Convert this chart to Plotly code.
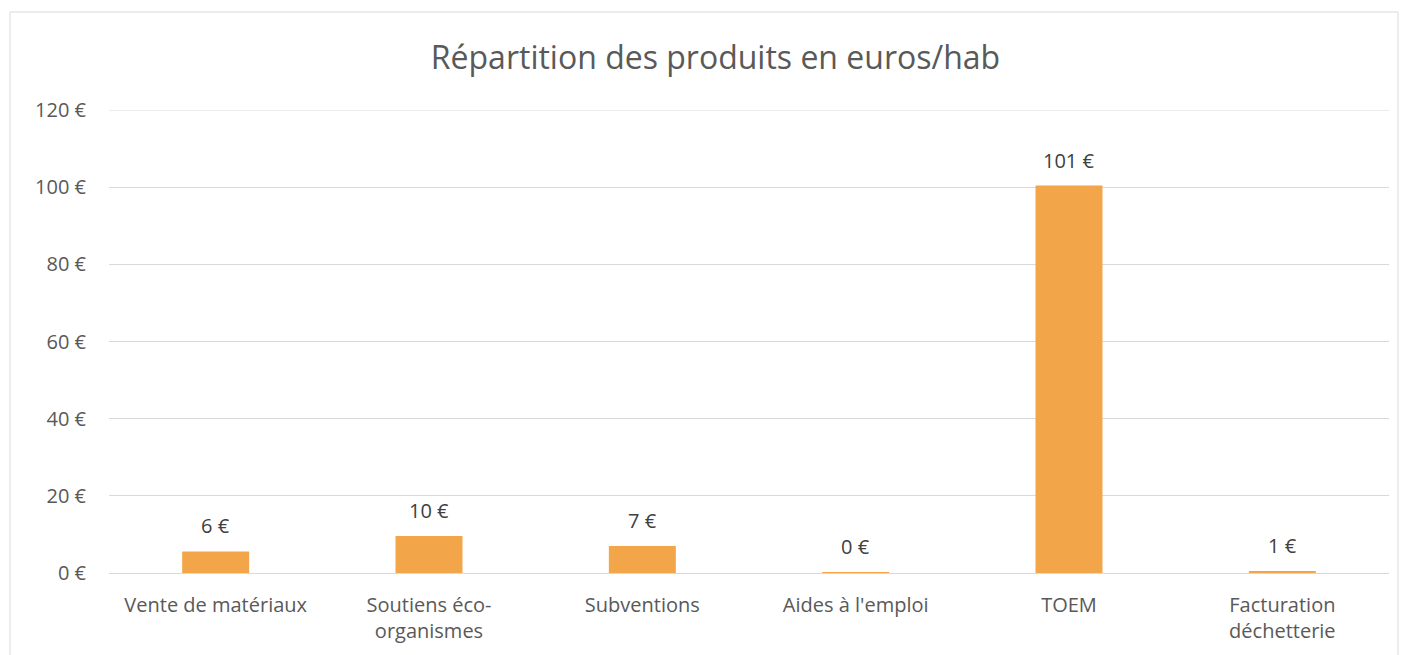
import plotly.graph_objects as go

categories = ["Vente de matériaux", "Soutiens éco-<br>organismes", "Subventions",
              "Aides à l'emploi", "TOEM", "Facturation<br>déchetterie"]
values = [5.6, 9.6, 7.0, 0.2, 100.4, 0.4]
labels = ["6 €", "10 €", "7 €", "0 €", "101 €", "1 €"]
y_ticks = [0, 20, 40, 60, 80, 100, 120]

OFF = 8  # default page body margin
W, H = 1408 - OFF, 655 - OFF
L, R, T, B = 109 - OFF, 1408 - 1389, 110 - OFF, 655 - 573
pw, ph = W - L - R, H - T - B

fig = go.Figure()
fig.add_trace(go.Bar(x=categories, y=values, marker=dict(color="#F2A649", line=dict(width=0)),
                     hoverinfo="x+y"))

for c, v, t in zip(categories, values, labels):
    fig.add_annotation(x=c, y=v, text=t, showarrow=False, yanchor="bottom", yshift=10,
                       font=dict(family="Open Sans", size=20, color="#404040"))

def px_x(p):
    return (p - OFF - L) / pw

def px_y(p):
    return (H - B - (p - OFF)) / ph

fig.add_shape(type="rect", xref="paper", yref="paper",
              x0=px_x(10), x1=px_x(1398), y0=px_y(680), y1=px_y(12),
              line=dict(color="#D9D9D9", width=1), fillcolor="rgba(0,0,0,0)", layer="below")
# top gridline at the range edge
fig.add_shape(type="line", xref="paper", yref="y", x0=0, x1=1,
              y0=y_ticks[-1], y1=y_ticks[-1], line=dict(color="#D9D9D9", width=1), layer="below")

fig.update_layout(
    width=W, height=H,
    margin=dict(l=L, r=R, t=T, b=B, autoexpand=False),
    paper_bgcolor="white", plot_bgcolor="white",
    title=dict(text="Répartition des produits en euros/hab", x=(715.5 - OFF) / W, xanchor="center",
               y=1 - (58 - OFF) / H, yanchor="middle",
               font=dict(family="Open Sans", size=32, color="#595959")),
    font=dict(family="Open Sans", color="#595959", size=20),
    bargap=0.686,
    showlegend=False,
    xaxis=dict(showgrid=False, showline=True, linecolor="#D9D9D9", linewidth=1,
               tickfont=dict(size=20, color="#595959"), ticks="", ticklabelstandoff=14),
    yaxis=dict(range=[0, 120], tickvals=y_ticks, ticktext=[f"{v} €" for v in y_ticks],
               showgrid=True, gridcolor="#D9D9D9", gridwidth=1, zeroline=False,
               showline=False, ticks="", ticklabelstandoff=22,
               tickfont=dict(size=20, color="#595959")),
)

fig.write_html("out.html")
